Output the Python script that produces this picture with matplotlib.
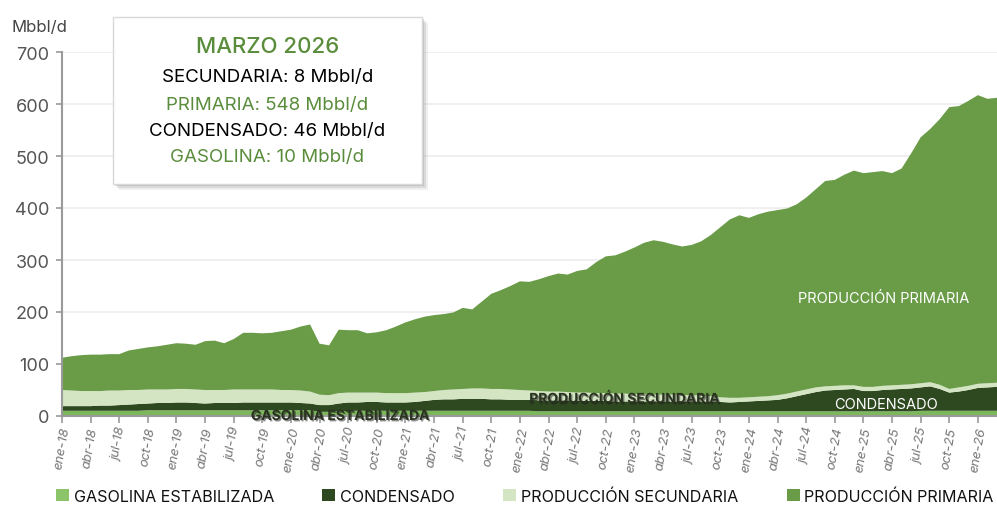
import matplotlib
matplotlib.use("Agg")
import matplotlib.pyplot as plt
from matplotlib.patches import Rectangle
import matplotlib.patheffects as pe
import numpy as np

plt.rcParams['font.family'] = ['Inter', 'DejaVu Sans']

# Monthly data, ene-18 .. mar-26 (Mbbl/d)
months_es = ['ene', 'feb', 'mar', 'abr', 'may', 'jun', 'jul', 'ago', 'sep', 'oct', 'nov', 'dic']
start_year = 18
n_months = 99

gasolina = [10, 10, 10, 10, 10, 10, 10, 10, 10, 11, 11, 11,
            11, 11, 11, 11, 11, 11, 11, 11, 11, 11, 11, 11,
            11, 11, 11, 8, 8, 9, 10, 10, 10, 10, 10, 10,
            10, 10, 10, 10, 10, 10, 10, 10, 10, 10, 10, 10,
            10, 10, 9, 9, 9, 9, 9, 9, 9, 9, 9, 9,
            9, 9, 9, 9, 9, 9, 9, 9, 9, 9, 9, 9,
            9, 9, 9, 9, 9, 9, 9, 9, 9, 9, 9, 9,
            9, 9, 9, 9, 9, 9, 10, 10, 10, 10, 10, 10,
            10, 10, 10]

condensado = [9, 9, 9, 9, 10, 10, 11, 12, 13, 13, 14, 14,
              15, 15, 14, 13, 14, 14, 14, 15, 15, 15, 15, 15,
              15, 14, 13, 13, 13, 15, 16, 16, 17, 17, 16, 16,
              16, 17, 19, 21, 22, 22, 23, 23, 23, 22, 22, 21,
              21, 21, 21, 21, 21, 21, 20, 20, 20, 20, 19, 19,
              19, 19, 19, 19, 19, 19, 19, 19, 19, 18, 17, 18,
              19, 20, 21, 22, 25, 29, 33, 37, 40, 41, 42, 43,
              39, 39, 41, 42, 43, 44, 45, 47, 42, 35, 37, 40,
              44, 45, 46]

secundaria = [31, 30, 29, 29, 28, 29, 28, 28, 27, 27, 26, 26,
              26, 26, 26, 26, 25, 25, 26, 25, 25, 25, 25, 24,
              24, 24, 23, 20, 19, 20, 19, 19, 18, 18, 18, 18,
              18, 18, 17, 17, 18, 19, 19, 20, 20, 20, 20, 20,
              19, 18, 18, 17, 17, 16, 16, 16, 15, 15, 15, 15,
              14, 14, 13, 13, 13, 12, 12, 11, 10, 9, 9, 8,
              8, 8, 8, 9, 9, 9, 9, 9, 8, 8, 8, 7,
              8, 8, 8, 8, 8, 8, 8, 8, 8, 7, 8, 8,
              8, 8, 8]

primaria = [62, 66, 69, 70, 70, 70, 70, 76, 79, 81, 83, 86,
            88, 87, 86, 94, 95, 90, 97, 109, 109, 108, 109, 113,
            116, 123, 129, 98, 96, 122, 120, 120, 114, 116, 121, 128,
            136, 141, 145, 146, 146, 148, 156, 152, 167, 183, 190, 199,
            209, 209, 215, 222, 227, 226, 234, 237, 252, 263, 266, 273,
            282, 291, 297, 294, 289, 286, 289, 297, 310, 327, 343, 351,
            345, 351, 355, 356, 356, 360, 369, 381, 395, 396, 405, 413,
            411, 413, 413, 408, 416, 444, 473, 487, 511, 542, 541, 548,
            555, 547, 548]

series_names = ['GASOLINA ESTABILIZADA', 'CONDENSADO', 'PRODUCCIÓN SECUNDARIA', 'PRODUCCIÓN PRIMARIA']
colors = ['#7cb85b', '#2e4920', '#d3e5c3', '#6a9c48']
leg_colors = ['#8cc46a', '#2e4920', '#d3e5c3', '#6a9c48']

yticks = [0, 100, 200, 300, 400, 500, 600, 700]

x = np.arange(n_months)
tick_pos = list(range(0, n_months, 3))
tick_labels = [f"{months_es[i % 12]}-{start_year + i // 12}" for i in tick_pos]

W, H = 997, 506
fig = plt.figure(figsize=(W / 100, H / 100), dpi=100)
ax = fig.add_axes([62 / W, (H - 417) / H, (997 - 62) / W, (417 - 53) / H])

ax.stackplot(x, gasolina, condensado, secundaria, primaria,
             colors=colors, labels=series_names, linewidth=0)

ax.set_xlim(0, n_months - 1)
ax.set_ylim(0, 700)
ax.set_yticks(yticks)
ax.set_yticklabels([str(v) for v in yticks], fontsize=13, color='#555555')
ax.set_xticks(tick_pos)
ax.set_xticklabels(tick_labels, rotation=80, fontsize=9.5, color='#777777',
                   ha='center', va='top', style='italic')
ax.grid(axis='y', color='#ececec', linewidth=1.2, zorder=0)
ax.set_axisbelow(True)
for s in ['top', 'right']:
    ax.spines[s].set_visible(False)
for s in ['left', 'bottom']:
    ax.spines[s].set_color('#9a9a9a')
    ax.spines[s].set_linewidth(1.5)
ax.tick_params(axis='y', length=4, color='#9a9a9a', width=1.2, pad=5)
ax.tick_params(axis='x', length=5, color='#9a9a9a', width=1.2, pad=2)
ax.spines['bottom'].set_zorder(5)


def px(xp, yp):
    return (xp / W, 1 - yp / H)


# unit label
fig.text(*px(11, 27), 'Mbbl/d', fontsize=12, color='#444444', ha='left', va='center')

# In-chart labels
fig.text(*px(884, 299), 'PRODUCCIÓN PRIMARIA', fontsize=10.5, color='white', ha='center', va='center')
fig.text(*px(886, 405), 'CONDENSADO', fontsize=10.5, color='white', ha='center', va='center')
fig.text(*px(624, 400), 'PRODUCCIÓN SECUNDARIA', fontsize=10, color='#2a3320', ha='center', va='center',
         fontweight='bold',
         path_effects=[pe.withSimplePatchShadow(offset=(1, -1), shadow_rgbFace='#1a1a1a', alpha=0.5)])
fig.text(*px(340, 417), 'GASOLINA ESTABILIZADA', fontsize=10, color='#2a3320', ha='center', va='center',
         fontweight='bold',
         path_effects=[pe.withSimplePatchShadow(offset=(1, -1), shadow_rgbFace='#1a1a1a', alpha=0.5)])

# Tooltip-like box
bx0, by0, bx1, by1 = 113, 18, 422, 185
for off, a in [(6, 0.15), (4, 0.25), (2, 0.35)]:
    fig.add_artist(Rectangle(((bx0 + off) / W, 1 - (by1 + off) / H), (bx1 - bx0) / W, (by1 - by0) / H,
                             transform=fig.transFigure, facecolor='#999999', edgecolor='none',
                             alpha=a, zorder=9))
fig.add_artist(Rectangle((bx0 / W, 1 - by1 / H), (bx1 - bx0) / W, (by1 - by0) / H,
                         transform=fig.transFigure, facecolor='white', edgecolor='#d8d8d8',
                         linewidth=1, zorder=10))
green_txt = '#5a8d3b'
cx = (bx0 + bx1) / 2
fig.text(*px(cx, 47), 'MARZO 2026', fontsize=16, color=green_txt, ha='center', va='center', zorder=11,
         fontweight='medium')
fig.text(*px(cx, 78), 'SECUNDARIA: 8 Mbbl/d', fontsize=13.5, color='black', ha='center', va='center', zorder=11)
fig.text(*px(cx, 105), 'PRIMARIA: 548 Mbbl/d', fontsize=13.5, color=green_txt, ha='center', va='center', zorder=11)
fig.text(*px(cx, 132), 'CONDENSADO: 46 Mbbl/d', fontsize=13.5, color='black', ha='center', va='center', zorder=11)
fig.text(*px(cx, 158), 'GASOLINA: 10 Mbbl/d', fontsize=13.5, color=green_txt, ha='center', va='center', zorder=11)

# Legend
handles = [Rectangle((0, 0), 1, 1, facecolor=c, edgecolor='none') for c in leg_colors]
leg = fig.legend(handles, series_names, loc='center left', bbox_to_anchor=(56 / W, 1 - 497 / H), ncol=4,
                 frameon=False, fontsize=11.6, handlelength=0.8, handleheight=0.8,
                 handletextpad=0.3, columnspacing=3.0, borderaxespad=0, borderpad=0)
for t in leg.get_texts():
    t.set_color('#111111')

fig.savefig('out.png', dpi=100)
